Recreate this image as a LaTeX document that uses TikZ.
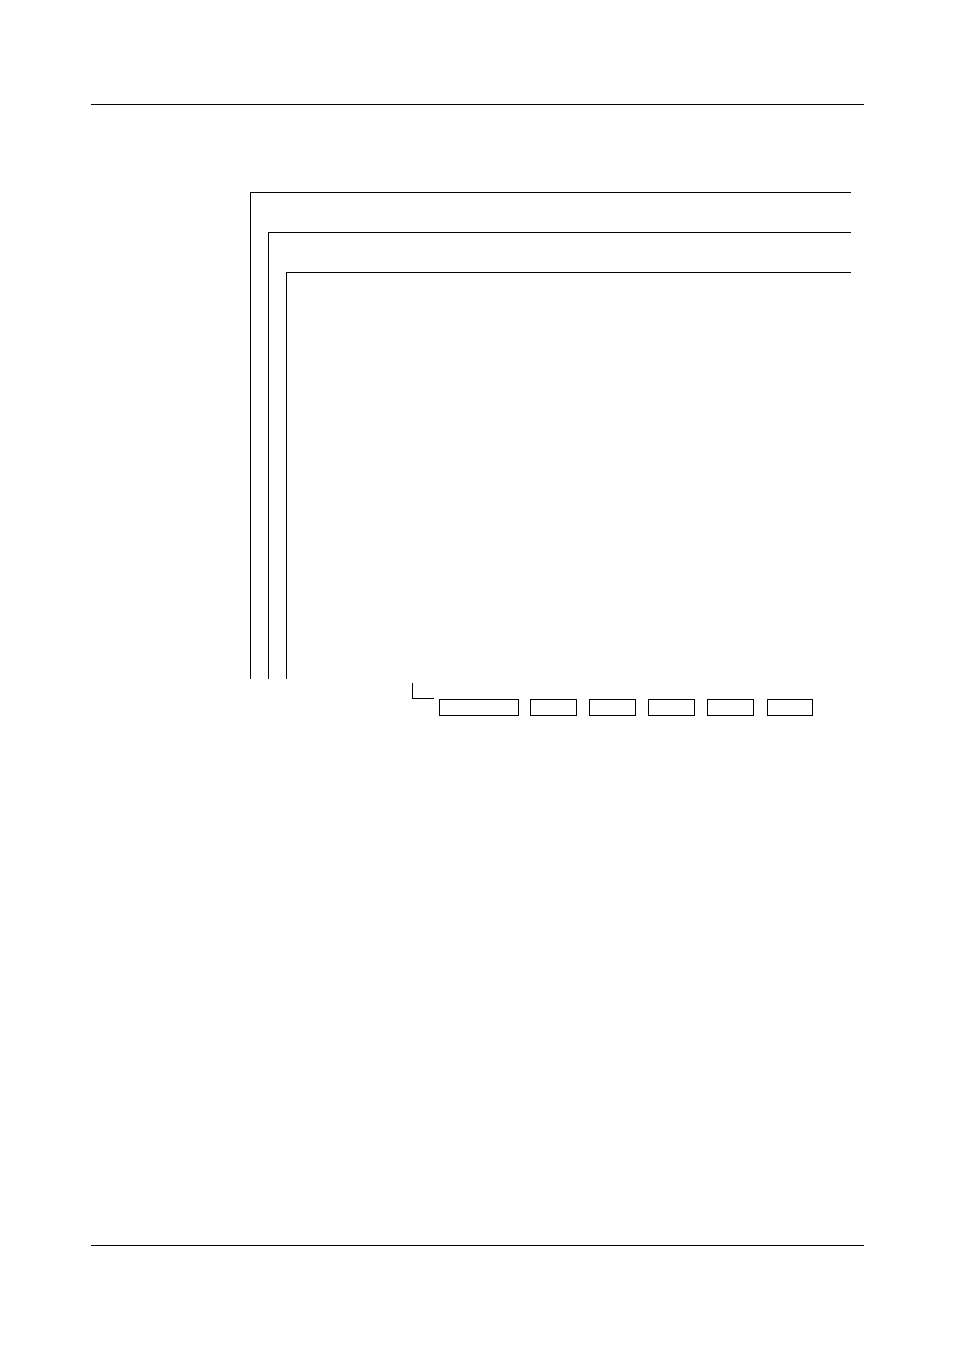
\documentclass[tikz,border=0pt]{standalone}
\begin{document}
\begin{tikzpicture}[x=0.75pt,y=-0.75pt,line width=0.8pt,
  cell/.style={draw,line width=0.8pt,inner sep=0pt,minimum height=16.3*0.75pt,anchor=north west},
  rule/.style={line width=0.8pt}]
\useasboundingbox (0,0) rectangle (954,1350);
% page rules
\coordinate (hl) at (91,104.3); \coordinate (hr) at (863.5,104.3);
\coordinate (fl) at (91,1245.5); \coordinate (fr) at (863.5,1245.5);
\draw[rule] (hl) -- (hr);
\draw[rule] (fl) -- (fr);
% nested frames
\coordinate (a1) at (250.5,678.5); \coordinate (a2) at (250.5,192.3); \coordinate (a3) at (850.5,192.3);
\coordinate (b1) at (268.5,678.5); \coordinate (b2) at (268.5,232.3); \coordinate (b3) at (850.5,232.3);
\coordinate (c1) at (286.3,678.5); \coordinate (c2) at (286.3,272.3); \coordinate (c3) at (850.5,272.3);
\draw[rule] (a1) -- (a2) -- (a3);
\draw[rule] (b1) -- (b2) -- (b3);
\draw[rule] (c1) -- (c2) -- (c3);
% L bracket
\coordinate (l1) at (412.3,683); \coordinate (l2) at (412.3,698.3); \coordinate (l3) at (434.3,698.3);
\draw[rule] (l1) -- (l2) -- (l3);
% boxes
\node[cell,minimum width=78.4*0.75pt] (k1) at (439.3,698.7) {};
\node[cell,minimum width=46.3*0.75pt] (k2) at (530,698.7) {};
\node[cell,minimum width=46.3*0.75pt] (k3) at (589,698.7) {};
\node[cell,minimum width=46*0.75pt] (k4) at (648.3,698.7) {};
\node[cell,minimum width=46.3*0.75pt] (k5) at (707,698.7) {};
\node[cell,minimum width=44.7*0.75pt] (k6) at (767.3,698.7) {};
\end{tikzpicture}
\end{document}
